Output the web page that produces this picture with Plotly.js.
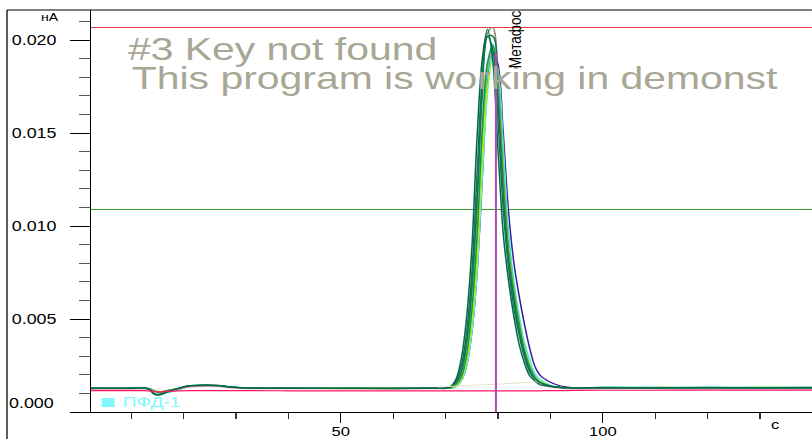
<!DOCTYPE html>
<html>
<head>
<meta charset="utf-8">
<script src="https://cdn.plot.ly/plotly-3.0.1.min.js"></script>
<style>
  html, body { margin: 0; padding: 0; background: #fff; overflow: hidden; }
  /* the chromatogram window is drawn with a horizontally stretched raster */
  #chart { width: 635px; height: 439px; transform: scaleX(1.2787); transform-origin: 0 0; }
</style>
</head>
<body>
<div id="chart"></div>
<script>
// Retention time grid, s
const time = [2.3, 10, 12.5, 13.5, 14.5, 15.5, 17, 19, 21, 24, 26.5, 29, 32, 40, 50, 60, 66,
  69, 70, 71, 72, 73, 74, 75, 76, 77, 78, 79, 80, 81, 82, 83, 84, 85, 86, 87, 88,
  90, 92, 95, 100, 110, 120, 130, 140];

// Detector signal of each injection, nA
const run01 = [0.00127, 0.00127, 0.00130, 0.00118, 0.00093, 0.00092, 0.00108, 0.00126, 0.00141, 0.00144, 0.00143, 0.00135, 0.00129, 0.00127, 0.00127, 0.00126, 0.00127,
  0.00127, 0.00128, 0.00137, 0.00177, 0.00287, 0.00507, 0.00877, 0.01477, 0.01897, 0.02057, 0.01887, 0.01407, 0.00957, 0.00707, 0.00517, 0.00367, 0.00267, 0.00197, 0.00167, 0.00147,
  0.00137, 0.00131, 0.00129, 0.00130, 0.00129, 0.00130, 0.00129, 0.00130];
const run02 = [0.00128, 0.00128, 0.00129, 0.00120, 0.00098, 0.00096, 0.00112, 0.00127, 0.00140, 0.00143, 0.00142, 0.00134, 0.00129, 0.00128, 0.00127, 0.00127, 0.00128,
  0.00128, 0.00129, 0.00138, 0.00168, 0.00248, 0.00428, 0.00748, 0.01278, 0.01798, 0.02018, 0.01948, 0.01568, 0.01088, 0.00778, 0.00568, 0.00418, 0.00298, 0.00218, 0.00178, 0.00158,
  0.00140, 0.00132, 0.00130, 0.00131, 0.00130, 0.00131, 0.00130, 0.00131];
const run03 = [0.00126, 0.00126, 0.00127, 0.00124, 0.00112, 0.00108, 0.00115, 0.00125, 0.00137, 0.00141, 0.00140, 0.00133, 0.00128, 0.00127, 0.00126, 0.00126, 0.00127,
  0.00127, 0.00127, 0.00132, 0.00157, 0.00207, 0.00357, 0.00647, 0.01097, 0.01707, 0.02037, 0.02067, 0.01757, 0.01237, 0.00847, 0.00627, 0.00457, 0.00327, 0.00237, 0.00187, 0.00157,
  0.00140, 0.00132, 0.00129, 0.00129, 0.00128, 0.00129, 0.00128, 0.00129];
const run04 = [0.00128, 0.00128, 0.00131, 0.00121, 0.00095, 0.00093, 0.00109, 0.00127, 0.00142, 0.00145, 0.00143, 0.00135, 0.00130, 0.00128, 0.00127, 0.00127, 0.00128,
  0.00128, 0.00129, 0.00135, 0.00160, 0.00220, 0.00380, 0.00670, 0.01150, 0.01730, 0.02020, 0.02020, 0.01680, 0.01170, 0.00820, 0.00610, 0.00440, 0.00320, 0.00230, 0.00180, 0.00160,
  0.00140, 0.00133, 0.00130, 0.00131, 0.00130, 0.00131, 0.00131, 0.00130];
const run05 = [0.00129, 0.00129, 0.00130, 0.00125, 0.00110, 0.00106, 0.00116, 0.00127, 0.00140, 0.00144, 0.00142, 0.00134, 0.00130, 0.00129, 0.00128, 0.00128, 0.00128,
  0.00128, 0.00129, 0.00130, 0.00148, 0.00188, 0.00308, 0.00548, 0.00948, 0.01518, 0.01878, 0.01968, 0.01738, 0.01258, 0.00868, 0.00648, 0.00478, 0.00338, 0.00248, 0.00188, 0.00158,
  0.00138, 0.00131, 0.00129, 0.00132, 0.00131, 0.00132, 0.00131, 0.00132];
const run06 = [0.00128, 0.00128, 0.00128, 0.00125, 0.00114, 0.00110, 0.00117, 0.00126, 0.00138, 0.00142, 0.00140, 0.00133, 0.00129, 0.00128, 0.00128, 0.00128, 0.00128,
  0.00128, 0.00128, 0.00128, 0.00138, 0.00174, 0.00275, 0.00478, 0.00818, 0.01368, 0.01748, 0.01898, 0.01738, 0.01298, 0.00888, 0.00658, 0.00488, 0.00348, 0.00258, 0.00188, 0.00168,
  0.00140, 0.00132, 0.00130, 0.00131, 0.00132, 0.00131, 0.00132, 0.00131];
const run07 = [0.00124, 0.00124, 0.00124, 0.00121, 0.00110, 0.00106, 0.00112, 0.00122, 0.00134, 0.00138, 0.00137, 0.00130, 0.00126, 0.00125, 0.00125, 0.00125, 0.00125,
  0.00125, 0.00125, 0.00130, 0.00146, 0.00191, 0.00325, 0.00580, 0.00965, 0.01545, 0.01875, 0.01935, 0.01675, 0.01205, 0.00835, 0.00615, 0.00445, 0.00325, 0.00245, 0.00185, 0.00155,
  0.00135, 0.00128, 0.00125, 0.00126, 0.00125, 0.00126, 0.00125, 0.00126];
const run08 = [0.00126, 0.00126, 0.00127, 0.00126, 0.00112, 0.00100, 0.00104, 0.00120, 0.00136, 0.00142, 0.00141, 0.00134, 0.00129, 0.00128, 0.00127, 0.00127, 0.00128,
  0.00128, 0.00128, 0.00128, 0.00136, 0.00166, 0.00248, 0.00428, 0.00748, 0.01268, 0.01718, 0.01928, 0.01838, 0.01428, 0.00978, 0.00708, 0.00528, 0.00378, 0.00288, 0.00208, 0.00178,
  0.00143, 0.00133, 0.00130, 0.00133, 0.00132, 0.00133, 0.00132, 0.00133];
const run09 = [0.00127, 0.00127, 0.00127, 0.00124, 0.00113, 0.00109, 0.00116, 0.00126, 0.00138, 0.00142, 0.00141, 0.00133, 0.00129, 0.00128, 0.00127, 0.00127, 0.00128,
  0.00128, 0.00128, 0.00128, 0.00138, 0.00168, 0.00248, 0.00428, 0.00748, 0.01258, 0.01758, 0.01938, 0.01868, 0.01498, 0.01078, 0.00808, 0.00628, 0.00478, 0.00348, 0.00248, 0.00198,
  0.00160, 0.00140, 0.00130, 0.00130, 0.00130, 0.00130, 0.00130, 0.00130];
const run10 = [0.00127, 0.00127, 0.00128, 0.00127, 0.00114, 0.00102, 0.00106, 0.00121, 0.00137, 0.00143, 0.00141, 0.00134, 0.00130, 0.00128, 0.00128, 0.00127, 0.00128,
  0.00128, 0.00128, 0.00128, 0.00138, 0.00176, 0.00281, 0.00492, 0.00848, 0.01418, 0.01828, 0.01978, 0.01818, 0.01358, 0.00928, 0.00688, 0.00498, 0.00358, 0.00258, 0.00198, 0.00168,
  0.00142, 0.00132, 0.00130, 0.00132, 0.00133, 0.00132, 0.00133, 0.00132];
const blank = [0.00115, 0.00115, 0.00115, 0.00113, 0.00108, 0.00108, 0.00111, 0.00114, 0.00115, 0.00115, 0.00115, 0.00115, 0.00115, 0.00114, 0.00114, 0.00114, 0.00114,
  0.00114, 0.00114, 0.00114, 0.00114, 0.00114, 0.00114, 0.00114, 0.00114, 0.00114, 0.00114, 0.00114, 0.00114, 0.00114, 0.00114, 0.00114, 0.00114, 0.00114, 0.00114, 0.00114, 0.00114,
  0.00115, 0.00115, 0.00116, 0.00117, 0.00117, 0.00118, 0.00118, 0.00118];

// Peak integration baseline and retention mark of "Метафос"
const peakBaseTime = [68.5, 87.4];
const peakBaseSignal = [0.00134, 0.00161];
const peakName = 'Метафос';
const peakTime = [79.6, 79.6];
const peakSignal = [0, 0.0193];

// Threshold levels, nA
const thresholdLevels = [0.020672, 0.010887];

// Axis ticks
const xTickVals = [50, 100];
const xTickText = ['50', '100'];
const yTickVals = [0, 0.005, 0.010, 0.015, 0.020];
const yTickText = ['', '0.005', '0.010', '0.015', '0.020'];

const runs = [
  { y: run09, color: '#3c1c9c' },
  { y: run08, color: '#55f0f0' },
  { y: run10, color: '#35d6a6' },
  { y: run06, color: '#b2f000' },
  { y: run07, color: '#ff88cc' },
  { y: run05, color: '#00a43c' },
  { y: run03, color: '#8b8466' },
  { y: run04, color: '#107352' },
  { y: run02, color: '#0d7a52' },
  { y: run01, color: '#00694a' },
  { y: blank, color: '#ff1464' }
];

const traces = runs.map(r => ({
  type: 'scatter', mode: 'lines', x: time, y: r.y,
  line: { color: r.color, width: 1.2, shape: 'spline', smoothing: 1 },
  hoverinfo: 'skip'
}));
traces.push({
  type: 'scatter', mode: 'lines', x: peakBaseTime, y: peakBaseSignal,
  line: { color: '#e6e2cc', width: 1 }, hoverinfo: 'skip'
});
traces.push({
  type: 'scatter', mode: 'lines', x: peakTime, y: peakSignal,
  line: { color: '#b04cb8', width: 1.6 }, hoverinfo: 'skip'
});

const font = '"Liberation Sans", Arial, sans-serif';
const watermark = '#a8a694';
const legendCyan = '#80fafa';

const layout = {
  width: 635, height: 439,
  margin: { l: 71, r: 0, t: 10, b: 27, pad: 0 },
  paper_bgcolor: '#ffffff', plot_bgcolor: '#ffffff',
  showlegend: false,
  font: { family: font, color: '#000' },
  xaxis: {
    range: [2.3, 139.9], tickmode: 'array', tickvals: xTickVals, ticktext: xTickText,
    ticks: 'outside', ticklen: 10, tickwidth: 1, tickcolor: '#000',
    showline: true, linecolor: '#000', linewidth: 1, showgrid: false, zeroline: false,
    tickfont: { size: 13, family: font, color: '#000' }, ticklabelstandoff: -3,
    minor: { tickmode: 'linear', tick0: 0, dtick: 10, ticks: 'outside', ticklen: 6, tickwidth: 1, tickcolor: '#333', showgrid: false }
  },
  yaxis: {
    range: [0, 0.021613], tickmode: 'array', tickvals: yTickVals, ticktext: yTickText,
    ticks: 'outside', ticklen: 15, tickwidth: 1, tickcolor: '#000',
    showline: true, linecolor: '#000', linewidth: 1, showgrid: false, zeroline: false,
    tickfont: { size: 14, family: font, color: '#000' }, ticklabelstandoff: 8,
    minor: { tickmode: 'linear', tick0: 0, dtick: 0.001, ticks: 'outside', ticklen: 8.6, tickwidth: 1, tickcolor: '#555', showgrid: false }
  },
  shapes: [
    { type: 'line', xref: 'paper', yref: 'paper', x0: -0.1162, x1: 1, y0: 1, y1: 1, line: { color: '#000', width: 1 } },
    { type: 'line', xref: 'paper', yref: 'paper', x0: -0.1162, x1: -0.1162, y0: -0.08, y1: 1, line: { color: '#000', width: 1 } },
    { type: 'line', xref: 'paper', yref: 'y', x0: 0, x1: 1, y0: thresholdLevels[0], y1: thresholdLevels[0], line: { color: '#e03c3c', width: 1 }, layer: 'below' },
    { type: 'line', xref: 'paper', yref: 'y', x0: 0, x1: 1, y0: thresholdLevels[1], y1: thresholdLevels[1], line: { color: '#2f9a2f', width: 1 }, layer: 'below' },
    { type: 'rect', xref: 'paper', yref: 'paper', x0: 0.0150, x1: 0.0330, y0: 0.0124, y1: 0.0348, fillcolor: legendCyan, line: { width: 0 } }
  ],
  annotations: [
    { text: 'нА', xref: 'paper', yref: 'paper', x: -0.057, y: 0.9826, xanchor: 'center', yanchor: 'middle', showarrow: false, font: { size: 11, family: font, color: '#000' } },
    { text: '0.000', xref: 'paper', yref: 'paper', x: -0.0472, y: 0.0224, xanchor: 'right', yanchor: 'middle', showarrow: false, font: { size: 14, family: font, color: '#000' } },
    { text: 'c', xref: 'x', yref: 'paper', x: 133, y: -0.032, xanchor: 'center', yanchor: 'middle', showarrow: false, font: { size: 13, family: font, color: '#000' } },
    { text: '#3 Key not found', xref: 'paper', yref: 'paper', x: 0.0485, y: 0.904, xanchor: 'left', yanchor: 'middle', showarrow: false, font: { size: 32, family: font, color: watermark } },
    { text: 'This program is working in demonst', xref: 'paper', yref: 'paper', x: 0.0527, y: 0.831, xanchor: 'left', yanchor: 'middle', showarrow: false, font: { size: 32, family: font, color: watermark } },
    { text: peakName, xref: 'x', yref: 'y', x: 83.4, y: 0.0184, textangle: -90, xanchor: 'center', yanchor: 'bottom', showarrow: false, font: { size: 13.5, family: font, color: '#000' } },
    { text: 'ПФД-1', xref: 'paper', yref: 'paper', x: 0.041, y: 0.0249, xanchor: 'left', yanchor: 'middle', showarrow: false, font: { size: 15, family: font, color: legendCyan } }
  ]
};

Plotly.newPlot('chart', traces, layout, { staticPlot: true, displayModeBar: false });
</script>
</body>
</html>
